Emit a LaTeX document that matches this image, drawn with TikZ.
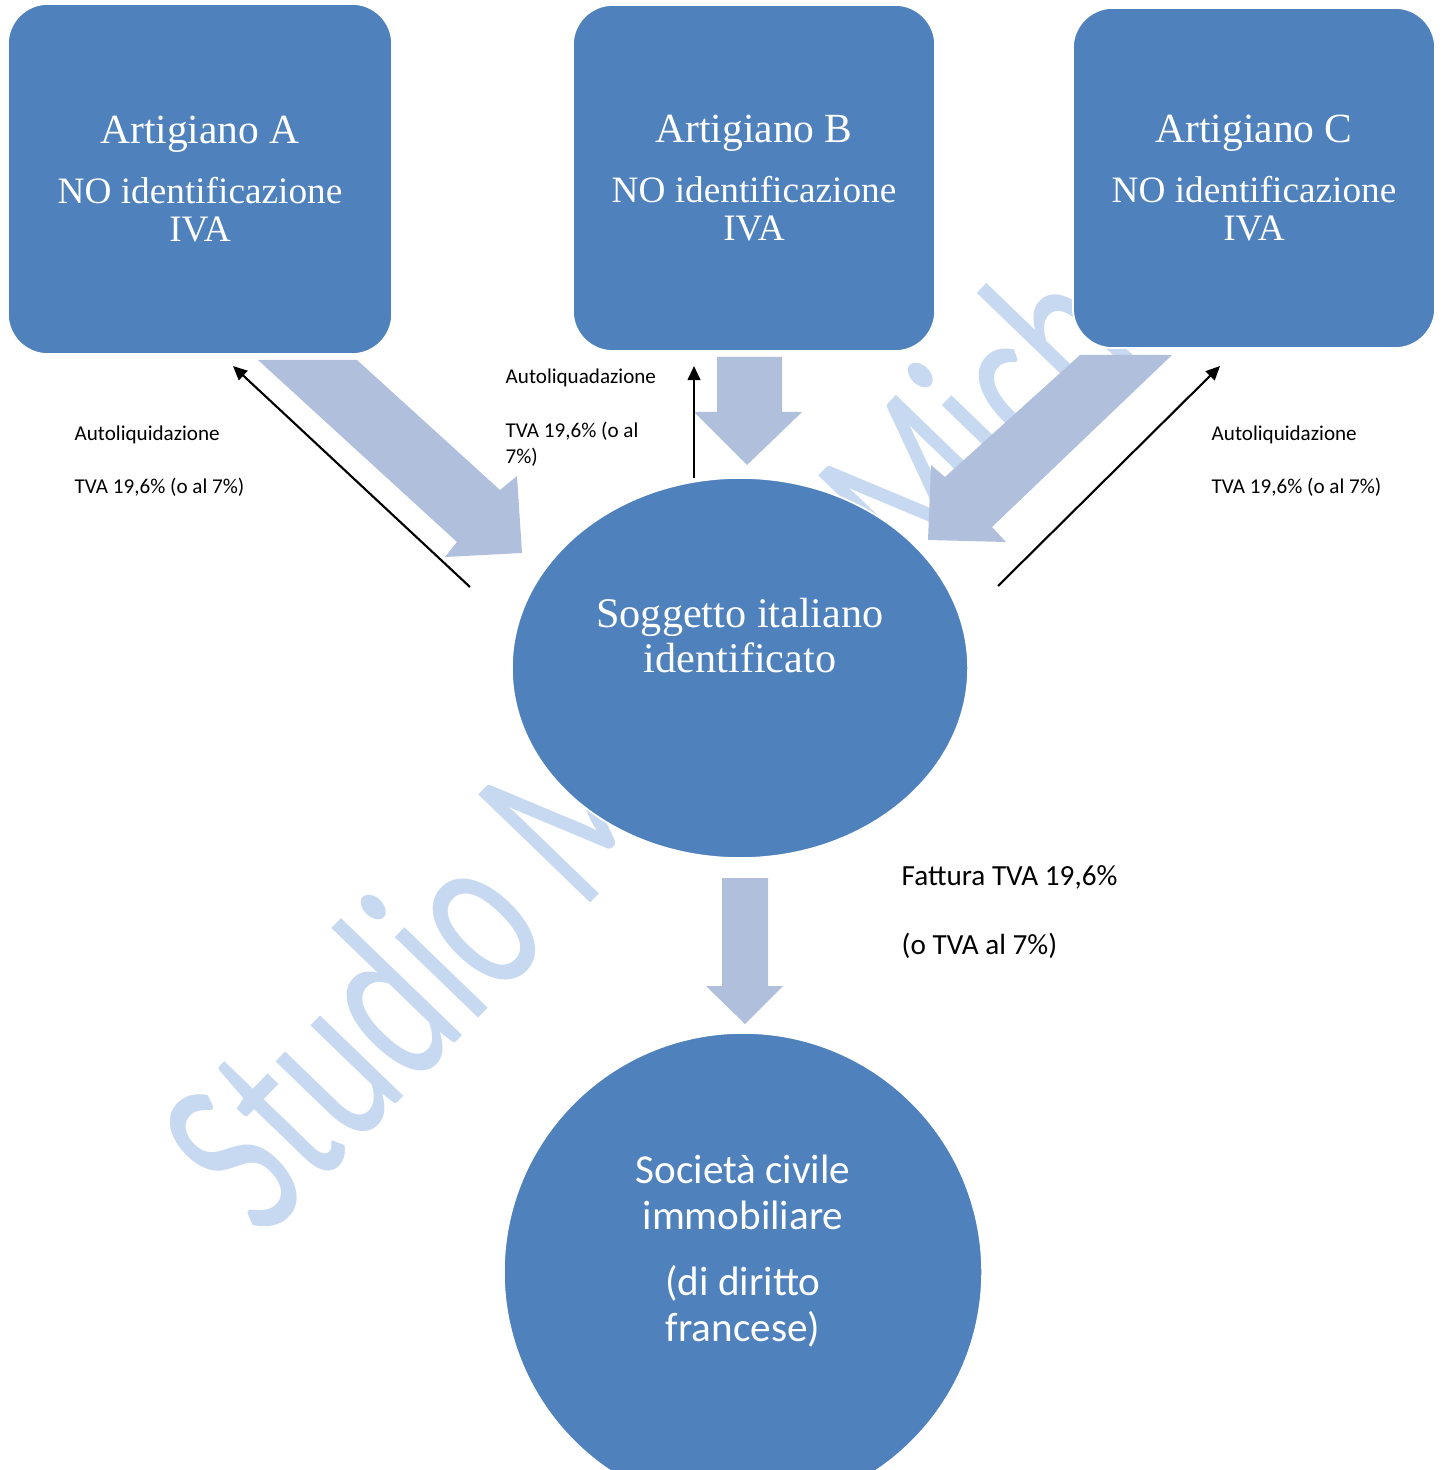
\documentclass[tikz,border=0pt]{standalone}
\usepackage{fontspec}
\setmainfont{Liberation Serif}
\setsansfont{Carlito}
\usetikzlibrary{shapes.geometric,arrows.meta}
\definecolor{boxblue}{RGB}{79,129,189}
\definecolor{arrowblue}{RGB}{176,192,220}
\definecolor{markblue}{RGB}{198,217,240}

\begin{document}
\begin{tikzpicture}[x=0.01cm, y=-0.01cm,
artnode/.style={rectangle, rounded corners=0.4cm, draw=white, line width=0.5pt, fill=boxblue, text=white, align=center, font=\fontsize{10.6}{10.8}\selectfont},
roundnode/.style={ellipse, draw=white, line width=0.5pt, fill=boxblue, inner sep=0pt},
whitetext/.style={text=white, align=center, inner sep=0pt},
notenode/.style={anchor=west, inner sep=0pt, font=\sffamily\fontsize{6}{7.4}\selectfont},
bigarrow/.style={fill=arrowblue},
backarrow/.style={-{Triangle[length=4pt,width=3.6pt]}, line width=0.6pt},
markstyle/.style={anchor=base west, inner sep=0pt, rotate=46, text=markblue, font=\sffamily\fontsize{46}{46}\selectfont},
]
\useasboundingbox (0,0) rectangle (1443,1470);

%Watermark
\node[markstyle] (markA) at (263,1242) {\scalebox{1}[1.5]{Studio M}};
\node[markstyle] (markB) at (921,594) {\scalebox{1}[1.5]{Mich}};

%Block arrows
\fill[bigarrow] (258,360) -- (357,360) -- (500,490) -- (517,476) -- (522,553) -- (445,557) -- (457,542) -- cycle;
\fill[bigarrow] (717,357) -- (782,357) -- (782,412) -- (802,412) -- (747,465) -- (694,412) -- (717,412) -- cycle;
\fill[bigarrow] (1080,355) -- (1172,355) -- (992,527) -- (1006,542) -- (928,540) -- (931,465) -- (945,477) -- cycle;
\fill[bigarrow] (722,878) -- (768,878) -- (768,986) -- (783,986) -- (745,1024) -- (706,986) -- (722,986) -- cycle;

%Nodes
\node[artnode, minimum width=3.84cm, minimum height=3.5cm]  (artA) at (200,179) {{\fontsize{11.8}{10.8}\selectfont Artigiano A}\\[6.2pt]NO identificazione\\IVA};
\node[artnode, minimum width=3.62cm, minimum height=3.46cm] (artB) at (754,178) {{\fontsize{11.8}{10.8}\selectfont Artigiano B}\\[6.2pt]NO identificazione\\IVA};
\node[artnode, minimum width=3.62cm, minimum height=3.4cm]  (artC) at (1254,178) {{\fontsize{11.8}{10.8}\selectfont Artigiano C}\\[6.2pt]NO identificazione\\IVA};
\node[roundnode, minimum width=4.56cm, minimum height=3.8cm] (sogg) at (740,668) {};
\node[whitetext, font=\fontsize{12}{12.8}\selectfont] (soggtext) at (740,636) {Soggetto italiano\\identificato};
\node[roundnode, minimum width=4.78cm, minimum height=4.78cm] (sci) at (743,1272) {};
\node[whitetext, font=\sffamily\fontsize{11.7}{13.1}\selectfont] (scitext) at (743,1251) {Società civile\\immobiliare\\[5.7pt](di diritto\\francese)};

%Labels
\node[notenode] (noteA1) at (74,435) {Autoliquidazione};
\node[notenode] (noteA2) at (74,487) {TVA 19,6\% (o al 7\%)};
\node[notenode] (noteB1) at (505,378) {Autoliquadazione};
\node[notenode] (noteB2) at (505,431) {TVA 19,6\% (o al};
\node[notenode] (noteB3) at (505,457) {7\%)};
\node[notenode] (noteC1) at (1211,435) {Autoliquidazione};
\node[notenode] (noteC2) at (1211,487) {TVA 19,6\% (o al 7\%)};
\node[notenode, font=\sffamily\fontsize{8.3}{10}\selectfont] (fatt1) at (901,877) {Fattura TVA 19,6\%};
\node[notenode, font=\sffamily\fontsize{8.3}{10}\selectfont] (fatt2) at (901,946) {(o TVA al 7\%)};

%Lines
\coordinate (soggA) at (470,587);
\coordinate (soggB) at (694,478);
\coordinate (soggC) at (998,586);
\coordinate (tipA) at (233,366);
\coordinate (tipB) at (694,366);
\coordinate (tipC) at (1220,366);
\draw[backarrow] (soggA) -- (tipA);
\draw[backarrow] (soggB) -- (tipB);
\draw[backarrow] (soggC) -- (tipC);
\end{tikzpicture}
\end{document}
